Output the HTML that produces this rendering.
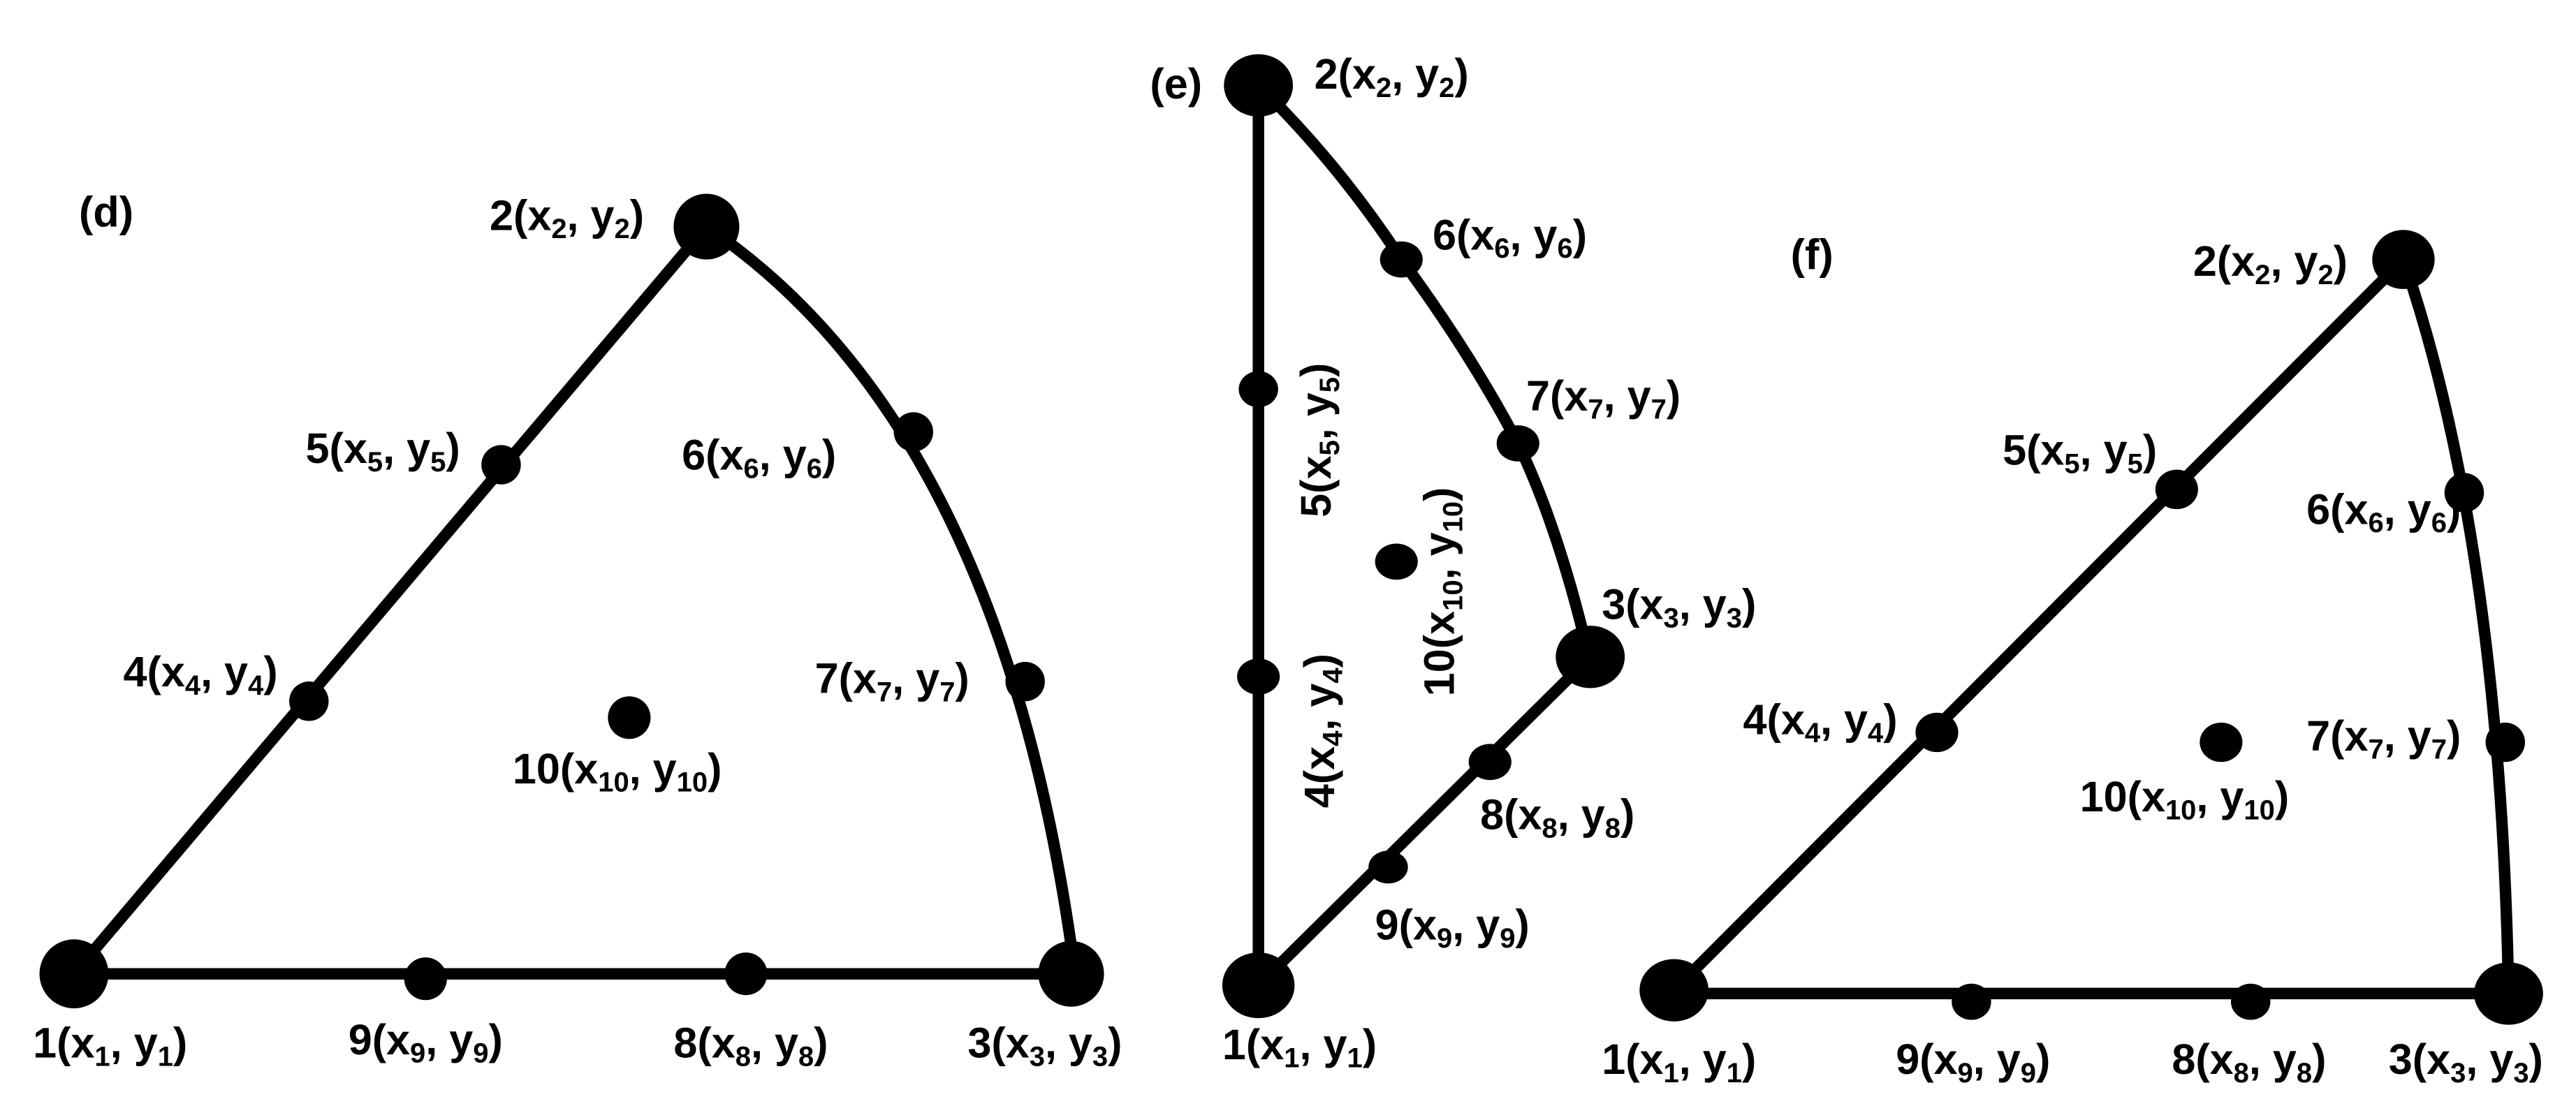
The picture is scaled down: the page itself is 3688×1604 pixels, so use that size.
<!DOCTYPE html>
<html><head><meta charset="utf-8"><style>
html,body{margin:0;padding:0;background:#fff;}
svg{display:block;}
text{font-family:"Liberation Sans",Arial,sans-serif;font-weight:bold;font-size:26px;fill:#000;}
.s{font-size:17px;}
</style></head><body>
<svg width="3688" height="1604" viewBox="0 0 1568 682" xmlns="http://www.w3.org/2000/svg">
<rect width="1568" height="682" fill="#fff"/>
<g fill="none" stroke="#000" stroke-width="7" stroke-linecap="round">
<path d="M45 593 L430 138"/>
<path d="M430 138 Q610 260 654 590"/>
<path d="M45 593 L652 593"/>
<path d="M766 52 L766 600"/>
<path d="M766 52 Q815 100 853 158 Q895 215 924 270 Q948 320 966 395"/>
<path d="M766 600 L968 400"/>
<path d="M1019 603 L1463 158"/>
<path d="M1463 158 Q1522 330 1527 605"/>
<path d="M1019 605 L1527 605"/>
</g>
<g fill="#000">
<circle cx="45" cy="593" r="21"/><circle cx="430" cy="138" r="20"/><circle cx="652" cy="593" r="20"/>
<circle cx="188" cy="427" r="12"/><circle cx="305" cy="283" r="12"/>
<circle cx="556" cy="263" r="12"/><circle cx="624" cy="415" r="12"/>
<circle cx="259" cy="596" r="13"/><circle cx="454" cy="593" r="13"/>
<circle cx="383" cy="437" r="13"/>
<ellipse cx="766" cy="52" rx="21" ry="19"/><ellipse cx="766" cy="600" rx="22" ry="20"/><ellipse cx="968" cy="400" rx="21" ry="19"/>
<ellipse cx="766" cy="412" rx="13" ry="11"/><ellipse cx="766" cy="237" rx="12" ry="11"/>
<ellipse cx="853" cy="158" rx="13" ry="11"/><ellipse cx="924" cy="270" rx="13" ry="11"/>
<ellipse cx="907" cy="464" rx="13" ry="11"/><ellipse cx="845" cy="528" rx="12" ry="10"/>
<ellipse cx="850" cy="342" rx="13" ry="11"/>
<ellipse cx="1019" cy="603" rx="21" ry="19"/><ellipse cx="1463" cy="158" rx="19" ry="18"/><ellipse cx="1527" cy="605" rx="21" ry="19"/>
<ellipse cx="1179" cy="446" rx="13" ry="12"/><ellipse cx="1325" cy="298" rx="13" ry="12"/>
<ellipse cx="1500" cy="300" rx="12" ry="12"/><ellipse cx="1525" cy="452" rx="12" ry="12"/>
<ellipse cx="1200" cy="610" rx="12" ry="11"/><ellipse cx="1370" cy="610" rx="12" ry="11"/>
<ellipse cx="1352" cy="452" rx="13" ry="12"/>
</g>
<text x="48" y="138">(d)</text>
<text x="298" y="140">2(x<tspan class="s" dy="5">2</tspan><tspan dy="-5">, y</tspan><tspan class="s" dy="5">2</tspan><tspan dy="-5">)</tspan></text>
<text x="186" y="282">5(x<tspan class="s" dy="5">5</tspan><tspan dy="-5">, y</tspan><tspan class="s" dy="5">5</tspan><tspan dy="-5">)</tspan></text>
<text x="415" y="286">6(x<tspan class="s" dy="5">6</tspan><tspan dy="-5">, y</tspan><tspan class="s" dy="5">6</tspan><tspan dy="-5">)</tspan></text>
<text x="75" y="418">4(x<tspan class="s" dy="5">4</tspan><tspan dy="-5">, y</tspan><tspan class="s" dy="5">4</tspan><tspan dy="-5">)</tspan></text>
<text x="496" y="422">7(x<tspan class="s" dy="5">7</tspan><tspan dy="-5">, y</tspan><tspan class="s" dy="5">7</tspan><tspan dy="-5">)</tspan></text>
<text x="312" y="477">10(x<tspan class="s" dy="5">10</tspan><tspan dy="-5">, y</tspan><tspan class="s" dy="5">10</tspan><tspan dy="-5">)</tspan></text>
<text x="20" y="644">1(x<tspan class="s" dy="5">1</tspan><tspan dy="-5">, y</tspan><tspan class="s" dy="5">1</tspan><tspan dy="-5">)</tspan></text>
<text x="212" y="642">9(x<tspan class="s" dy="5">9</tspan><tspan dy="-5">, y</tspan><tspan class="s" dy="5">9</tspan><tspan dy="-5">)</tspan></text>
<text x="410" y="644">8(x<tspan class="s" dy="5">8</tspan><tspan dy="-5">, y</tspan><tspan class="s" dy="5">8</tspan><tspan dy="-5">)</tspan></text>
<text x="589" y="644">3(x<tspan class="s" dy="5">3</tspan><tspan dy="-5">, y</tspan><tspan class="s" dy="5">3</tspan><tspan dy="-5">)</tspan></text>
<text x="700" y="60">(e)</text>
<text x="800" y="54">2(x<tspan class="s" dy="5">2</tspan><tspan dy="-5">, y</tspan><tspan class="s" dy="5">2</tspan><tspan dy="-5">)</tspan></text>
<text x="872" y="152">6(x<tspan class="s" dy="5">6</tspan><tspan dy="-5">, y</tspan><tspan class="s" dy="5">6</tspan><tspan dy="-5">)</tspan></text>
<text x="929" y="250">7(x<tspan class="s" dy="5">7</tspan><tspan dy="-5">, y</tspan><tspan class="s" dy="5">7</tspan><tspan dy="-5">)</tspan></text>
<text x="975" y="377">3(x<tspan class="s" dy="5">3</tspan><tspan dy="-5">, y</tspan><tspan class="s" dy="5">3</tspan><tspan dy="-5">)</tspan></text>
<text x="901" y="505">8(x<tspan class="s" dy="5">8</tspan><tspan dy="-5">, y</tspan><tspan class="s" dy="5">8</tspan><tspan dy="-5">)</tspan></text>
<text x="837" y="572">9(x<tspan class="s" dy="5">9</tspan><tspan dy="-5">, y</tspan><tspan class="s" dy="5">9</tspan><tspan dy="-5">)</tspan></text>
<text x="744" y="645">1(x<tspan class="s" dy="5">1</tspan><tspan dy="-5">, y</tspan><tspan class="s" dy="5">1</tspan><tspan dy="-5">)</tspan></text>
<text transform="translate(810,315) rotate(-90)">5(x<tspan class="s" dy="5">5</tspan><tspan dy="-5">, y</tspan><tspan class="s" dy="5">5</tspan><tspan dy="-5">)</tspan></text>
<text transform="translate(812,492) rotate(-90)">4(x<tspan class="s" dy="5">4</tspan><tspan dy="-5">, y</tspan><tspan class="s" dy="5">4</tspan><tspan dy="-5">)</tspan></text>
<text transform="translate(885,424) rotate(-90)">10(x<tspan class="s" dy="5">10</tspan><tspan dy="-5">, y</tspan><tspan class="s" dy="5">10</tspan><tspan dy="-5">)</tspan></text>
<text x="1090" y="164">(f)</text>
<text x="1335" y="168">2(x<tspan class="s" dy="5">2</tspan><tspan dy="-5">, y</tspan><tspan class="s" dy="5">2</tspan><tspan dy="-5">)</tspan></text>
<text x="1219" y="283">5(x<tspan class="s" dy="5">5</tspan><tspan dy="-5">, y</tspan><tspan class="s" dy="5">5</tspan><tspan dy="-5">)</tspan></text>
<text x="1404" y="319">6(x<tspan class="s" dy="5">6</tspan><tspan dy="-5">, y</tspan><tspan class="s" dy="5">6</tspan><tspan dy="-5">)</tspan></text>
<text x="1061" y="447">4(x<tspan class="s" dy="5">4</tspan><tspan dy="-5">, y</tspan><tspan class="s" dy="5">4</tspan><tspan dy="-5">)</tspan></text>
<text x="1404" y="457">7(x<tspan class="s" dy="5">7</tspan><tspan dy="-5">, y</tspan><tspan class="s" dy="5">7</tspan><tspan dy="-5">)</tspan></text>
<text x="1266" y="494">10(x<tspan class="s" dy="5">10</tspan><tspan dy="-5">, y</tspan><tspan class="s" dy="5">10</tspan><tspan dy="-5">)</tspan></text>
<text x="975" y="654">1(x<tspan class="s" dy="5">1</tspan><tspan dy="-5">, y</tspan><tspan class="s" dy="5">1</tspan><tspan dy="-5">)</tspan></text>
<text x="1154" y="654">9(x<tspan class="s" dy="5">9</tspan><tspan dy="-5">, y</tspan><tspan class="s" dy="5">9</tspan><tspan dy="-5">)</tspan></text>
<text x="1322" y="654">8(x<tspan class="s" dy="5">8</tspan><tspan dy="-5">, y</tspan><tspan class="s" dy="5">8</tspan><tspan dy="-5">)</tspan></text>
<text x="1454" y="654">3(x<tspan class="s" dy="5">3</tspan><tspan dy="-5">, y</tspan><tspan class="s" dy="5">3</tspan><tspan dy="-5">)</tspan></text>
</svg>
</body></html>
